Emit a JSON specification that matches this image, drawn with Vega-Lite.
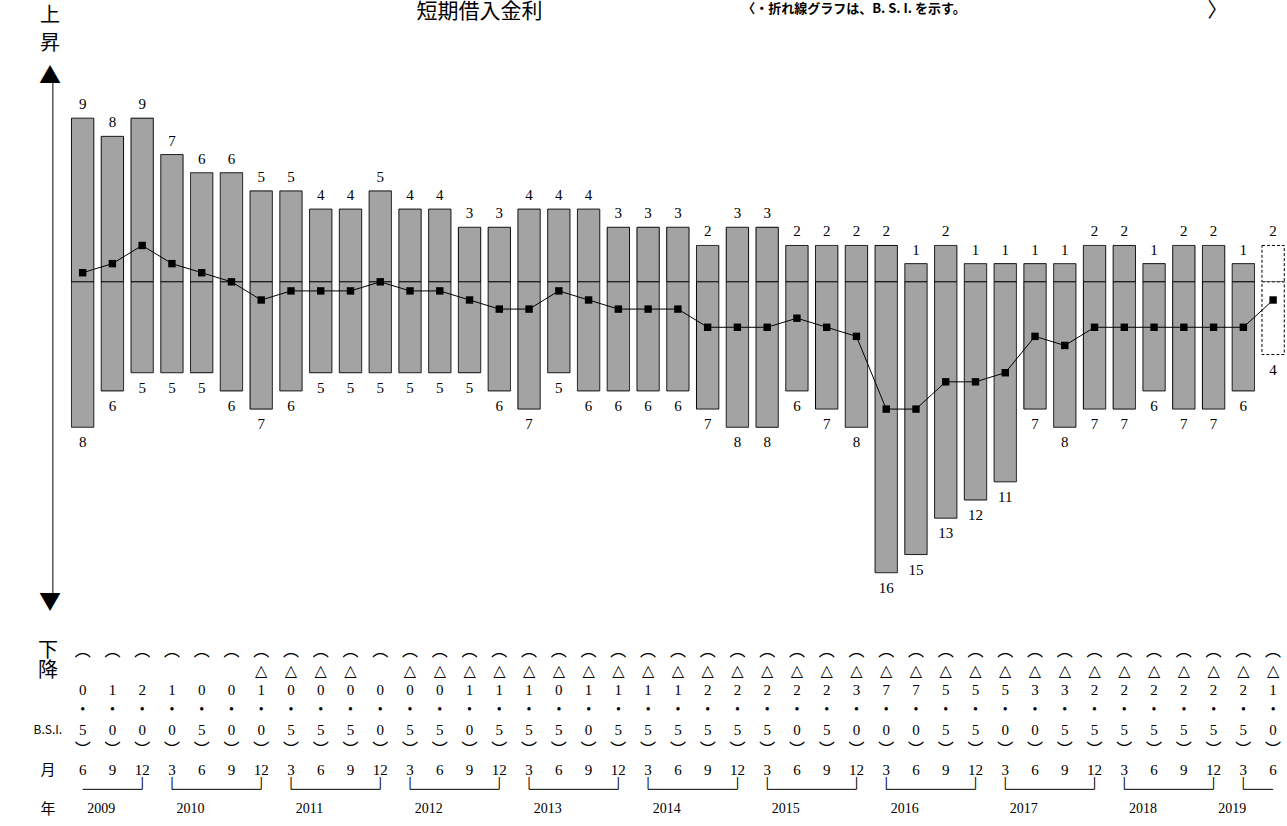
{
  "$schema": "https://vega.github.io/schema/vega-lite/v6.json",
  "padding": {"left": 33, "top": 0, "right": 0, "bottom": 0},
  "spacing": 0,
  "config": {"view": {"stroke": null}, "text": {"font": "Liberation Serif", "fontSize": 15, "color": "#000"}},
  "datasets": {
    "q": [
      {"p": "2009/6", "up": 9, "down": -8, "dl": 8, "bsi": 0.5, "i": "0", "d": "5", "m": "6", "neg": false, "f": false},
      {"p": "2009/9", "up": 8, "down": -6, "dl": 6, "bsi": 1.0, "i": "1", "d": "0", "m": "9", "neg": false, "f": false},
      {"p": "2009/12", "up": 9, "down": -5, "dl": 5, "bsi": 2.0, "i": "2", "d": "0", "m": "12", "neg": false, "f": false},
      {"p": "2010/3", "up": 7, "down": -5, "dl": 5, "bsi": 1.0, "i": "1", "d": "0", "m": "3", "neg": false, "f": false},
      {"p": "2010/6", "up": 6, "down": -5, "dl": 5, "bsi": 0.5, "i": "0", "d": "5", "m": "6", "neg": false, "f": false},
      {"p": "2010/9", "up": 6, "down": -6, "dl": 6, "bsi": 0.0, "i": "0", "d": "0", "m": "9", "neg": false, "f": false},
      {"p": "2010/12", "up": 5, "down": -7, "dl": 7, "bsi": -1.0, "i": "1", "d": "0", "m": "12", "neg": true, "f": false},
      {"p": "2011/3", "up": 5, "down": -6, "dl": 6, "bsi": -0.5, "i": "0", "d": "5", "m": "3", "neg": true, "f": false},
      {"p": "2011/6", "up": 4, "down": -5, "dl": 5, "bsi": -0.5, "i": "0", "d": "5", "m": "6", "neg": true, "f": false},
      {"p": "2011/9", "up": 4, "down": -5, "dl": 5, "bsi": -0.5, "i": "0", "d": "5", "m": "9", "neg": true, "f": false},
      {"p": "2011/12", "up": 5, "down": -5, "dl": 5, "bsi": 0.0, "i": "0", "d": "0", "m": "12", "neg": false, "f": false},
      {"p": "2012/3", "up": 4, "down": -5, "dl": 5, "bsi": -0.5, "i": "0", "d": "5", "m": "3", "neg": true, "f": false},
      {"p": "2012/6", "up": 4, "down": -5, "dl": 5, "bsi": -0.5, "i": "0", "d": "5", "m": "6", "neg": true, "f": false},
      {"p": "2012/9", "up": 3, "down": -5, "dl": 5, "bsi": -1.0, "i": "1", "d": "0", "m": "9", "neg": true, "f": false},
      {"p": "2012/12", "up": 3, "down": -6, "dl": 6, "bsi": -1.5, "i": "1", "d": "5", "m": "12", "neg": true, "f": false},
      {"p": "2013/3", "up": 4, "down": -7, "dl": 7, "bsi": -1.5, "i": "1", "d": "5", "m": "3", "neg": true, "f": false},
      {"p": "2013/6", "up": 4, "down": -5, "dl": 5, "bsi": -0.5, "i": "0", "d": "5", "m": "6", "neg": true, "f": false},
      {"p": "2013/9", "up": 4, "down": -6, "dl": 6, "bsi": -1.0, "i": "1", "d": "0", "m": "9", "neg": true, "f": false},
      {"p": "2013/12", "up": 3, "down": -6, "dl": 6, "bsi": -1.5, "i": "1", "d": "5", "m": "12", "neg": true, "f": false},
      {"p": "2014/3", "up": 3, "down": -6, "dl": 6, "bsi": -1.5, "i": "1", "d": "5", "m": "3", "neg": true, "f": false},
      {"p": "2014/6", "up": 3, "down": -6, "dl": 6, "bsi": -1.5, "i": "1", "d": "5", "m": "6", "neg": true, "f": false},
      {"p": "2014/9", "up": 2, "down": -7, "dl": 7, "bsi": -2.5, "i": "2", "d": "5", "m": "9", "neg": true, "f": false},
      {"p": "2014/12", "up": 3, "down": -8, "dl": 8, "bsi": -2.5, "i": "2", "d": "5", "m": "12", "neg": true, "f": false},
      {"p": "2015/3", "up": 3, "down": -8, "dl": 8, "bsi": -2.5, "i": "2", "d": "5", "m": "3", "neg": true, "f": false},
      {"p": "2015/6", "up": 2, "down": -6, "dl": 6, "bsi": -2.0, "i": "2", "d": "0", "m": "6", "neg": true, "f": false},
      {"p": "2015/9", "up": 2, "down": -7, "dl": 7, "bsi": -2.5, "i": "2", "d": "5", "m": "9", "neg": true, "f": false},
      {"p": "2015/12", "up": 2, "down": -8, "dl": 8, "bsi": -3.0, "i": "3", "d": "0", "m": "12", "neg": true, "f": false},
      {"p": "2016/3", "up": 2, "down": -16, "dl": 16, "bsi": -7.0, "i": "7", "d": "0", "m": "3", "neg": true, "f": false},
      {"p": "2016/6", "up": 1, "down": -15, "dl": 15, "bsi": -7.0, "i": "7", "d": "0", "m": "6", "neg": true, "f": false},
      {"p": "2016/9", "up": 2, "down": -13, "dl": 13, "bsi": -5.5, "i": "5", "d": "5", "m": "9", "neg": true, "f": false},
      {"p": "2016/12", "up": 1, "down": -12, "dl": 12, "bsi": -5.5, "i": "5", "d": "5", "m": "12", "neg": true, "f": false},
      {"p": "2017/3", "up": 1, "down": -11, "dl": 11, "bsi": -5.0, "i": "5", "d": "0", "m": "3", "neg": true, "f": false},
      {"p": "2017/6", "up": 1, "down": -7, "dl": 7, "bsi": -3.0, "i": "3", "d": "0", "m": "6", "neg": true, "f": false},
      {"p": "2017/9", "up": 1, "down": -8, "dl": 8, "bsi": -3.5, "i": "3", "d": "5", "m": "9", "neg": true, "f": false},
      {"p": "2017/12", "up": 2, "down": -7, "dl": 7, "bsi": -2.5, "i": "2", "d": "5", "m": "12", "neg": true, "f": false},
      {"p": "2018/3", "up": 2, "down": -7, "dl": 7, "bsi": -2.5, "i": "2", "d": "5", "m": "3", "neg": true, "f": false},
      {"p": "2018/6", "up": 1, "down": -6, "dl": 6, "bsi": -2.5, "i": "2", "d": "5", "m": "6", "neg": true, "f": false},
      {"p": "2018/9", "up": 2, "down": -7, "dl": 7, "bsi": -2.5, "i": "2", "d": "5", "m": "9", "neg": true, "f": false},
      {"p": "2018/12", "up": 2, "down": -7, "dl": 7, "bsi": -2.5, "i": "2", "d": "5", "m": "12", "neg": true, "f": false},
      {"p": "2019/3", "up": 1, "down": -6, "dl": 6, "bsi": -2.5, "i": "2", "d": "5", "m": "3", "neg": true, "f": false},
      {"p": "2019/6", "up": 2, "down": -4, "dl": 4, "bsi": -1.0, "i": "1", "d": "0", "m": "6", "neg": true, "f": true}
    ],
    "years": [
      {"y": "2009", "s": "2009/6", "e": "2009/12", "c": "2009/9", "even": false},
      {"y": "2010", "s": "2010/3", "e": "2010/12", "c": "2010/6", "even": true},
      {"y": "2011", "s": "2011/3", "e": "2011/12", "c": "2011/6", "even": true},
      {"y": "2012", "s": "2012/3", "e": "2012/12", "c": "2012/6", "even": true},
      {"y": "2013", "s": "2013/3", "e": "2013/12", "c": "2013/6", "even": true},
      {"y": "2014", "s": "2014/3", "e": "2014/12", "c": "2014/6", "even": true},
      {"y": "2015", "s": "2015/3", "e": "2015/12", "c": "2015/6", "even": true},
      {"y": "2016", "s": "2016/3", "e": "2016/12", "c": "2016/6", "even": true},
      {"y": "2017", "s": "2017/3", "e": "2017/12", "c": "2017/6", "even": true},
      {"y": "2018", "s": "2018/3", "e": "2018/12", "c": "2018/6", "even": true},
      {"y": "2019", "s": "2019/3", "e": "2019/6", "c": "2019/3", "even": true}
    ],
    "ends": [
      {"p": "2009/12"}, {"p": "2010/3"}, {"p": "2010/12"}, {"p": "2011/3"}, {"p": "2011/12"},
      {"p": "2012/3"}, {"p": "2012/12"}, {"p": "2013/3"}, {"p": "2013/12"}, {"p": "2014/3"}, {"p": "2014/12"},
      {"p": "2015/3"}, {"p": "2015/12"}, {"p": "2016/3"}, {"p": "2016/12"}, {"p": "2017/3"}, {"p": "2017/12"},
      {"p": "2018/3"}, {"p": "2018/12"}, {"p": "2019/3"}
    ]
  },
  "vconcat": [
    {
      "width": 1250,
      "height": 640,
      "data": {"name": "q"},
      "encoding": {
        "x": {"field": "p", "type": "nominal", "axis": null,
          "scale": {"paddingInner": 0.25, "paddingOuter": 0.125,
            "domain": ["axis","2009/6","2009/9","2009/12","2010/3","2010/6","2010/9","2010/12","2011/3","2011/6","2011/9","2011/12","2012/3","2012/6","2012/9","2012/12","2013/3","2013/6","2013/9","2013/12","2014/3","2014/6","2014/9","2014/12","2015/3","2015/6","2015/9","2015/12","2016/3","2016/6","2016/9","2016/12","2017/3","2017/6","2017/9","2017/12","2018/3","2018/6","2018/9","2018/12","2019/3","2019/6"]}}
      },
      "layer": [
        {
          "mark": {"type": "bar", "stroke": "#000", "strokeWidth": 1},
          "encoding": {
            "y": {"field": "up", "type": "quantitative", "axis": null, "scale": {"domain": [-19.7, 15.5], "nice": false, "zero": false}},
            "y2": {"datum": 0},
            "fill": {"condition": {"test": "datum.f", "value": "#ffffff"}, "value": "#a3a3a3"},
            "strokeDash": {"condition": {"test": "datum.f", "value": [3, 2]}, "value": [1, 0]}
          }
        },
        {
          "mark": {"type": "bar", "stroke": "#000", "strokeWidth": 1},
          "encoding": {
            "y": {"field": "down", "type": "quantitative"},
            "y2": {"datum": 0},
            "fill": {"condition": {"test": "datum.f", "value": "#ffffff"}, "value": "#a3a3a3"},
            "strokeDash": {"condition": {"test": "datum.f", "value": [3, 2]}, "value": [1, 0]}
          }
        },
        {
          "mark": {"type": "text", "baseline": "bottom", "dy": -6},
          "encoding": {"y": {"field": "up", "type": "quantitative"}, "text": {"field": "up"}}
        },
        {
          "mark": {"type": "text", "baseline": "top", "dy": 8},
          "encoding": {"y": {"field": "down", "type": "quantitative"}, "text": {"field": "dl"}}
        },
        {
          "mark": {"type": "rule", "color": "#000", "strokeWidth": 1},
          "encoding": {"y": {"datum": 0}}
        },
        {
          "mark": {"type": "line", "color": "#000", "strokeWidth": 1, "point": {"shape": "square", "size": 55, "filled": true, "color": "#000"}},
          "encoding": {"y": {"field": "bsi", "type": "quantitative"}}
        },
        {
          "data": {"values": [{"p": "axis", "a": 11.3, "b": -17.6}]},
          "mark": {"type": "rule", "color": "#000", "strokeWidth": 1},
          "encoding": {"y": {"field": "a", "type": "quantitative"}, "y2": {"field": "b"}}
        },
        {
          "data": {"values": [
            {"p": "axis", "v": 11.3, "t": "▲", "s": 22},
            {"p": "axis", "v": -17.6, "t": "▼", "s": 22},
            {"p": "axis", "v": 14.6, "t": "上", "s": 20},
            {"p": "axis", "v": 13.1, "t": "昇", "s": 20}
          ]},
          "mark": {"type": "text", "font": "Noto Sans CJK JP", "dx": -3},
          "encoding": {"y": {"field": "v", "type": "quantitative"}, "text": {"field": "t"}, "size": {"field": "s", "type": "quantitative", "scale": null}}
        },
        {
          "data": {"values": [{"p": "2012/9", "v": 14.85, "t": "短期借入金利"}]},
          "mark": {"type": "text", "font": "Noto Sans CJK JP", "fontSize": 21, "dx": 10},
          "encoding": {"y": {"field": "v", "type": "quantitative"}, "text": {"field": "t"}}
        },
        {
          "data": {"values": [{"p": "2015/3", "v": 15.0, "t": "〈・折れ線グラフは、B. S. I. を示す。"}]},
          "mark": {"type": "text", "font": "Noto Sans CJK JP", "fontSize": 13, "fontWeight": "bold", "align": "left", "dx": -25},
          "encoding": {"y": {"field": "v", "type": "quantitative"}, "text": {"field": "t"}}
        },
        {
          "data": {"values": [{"p": "2018/12", "v": 14.9, "t": "〉"}]},
          "mark": {"type": "text", "font": "Noto Sans CJK JP", "fontSize": 20, "dx": 4},
          "encoding": {"y": {"field": "v", "type": "quantitative"}, "text": {"field": "t"}}
        }
      ]
    },
    {
      "width": 1250,
      "height": 178,
      "data": {"name": "q"},
      "encoding": {
        "x": {"field": "p", "type": "nominal", "axis": null,
          "scale": {"paddingInner": 0.25, "paddingOuter": 0.125,
            "domain": ["axis","2009/6","2009/9","2009/12","2010/3","2010/6","2010/9","2010/12","2011/3","2011/6","2011/9","2011/12","2012/3","2012/6","2012/9","2012/12","2013/3","2013/6","2013/9","2013/12","2014/3","2014/6","2014/9","2014/12","2015/3","2015/6","2015/9","2015/12","2016/3","2016/6","2016/9","2016/12","2017/3","2017/6","2017/9","2017/12","2018/3","2018/6","2018/9","2018/12","2019/3","2019/6"]}}
      },
      "layer": [
        {
          "mark": {"type": "text", "font": "Noto Sans CJK JP", "fontSize": 16},
          "encoding": {"y": {"datum": "arc1", "type": "ordinal", "axis": null, "scale": {"type": "point", "padding": 0.5, "domain": ["arc1","tri","int","dot","dec","arc2","month","bracket","year"]}}, "text": {"value": "︵"}}
        },
        {
          "transform": [{"filter": "datum.neg"}],
          "mark": {"type": "text", "font": "DejaVu Sans", "fontSize": 16},
          "encoding": {"y": {"datum": "tri", "type": "ordinal"}, "text": {"value": "△"}}
        },
        {
          "mark": {"type": "text"},
          "encoding": {"y": {"datum": "int", "type": "ordinal"}, "text": {"field": "i"}}
        },
        {
          "mark": {"type": "text", "fontSize": 14},
          "encoding": {"y": {"datum": "dot", "type": "ordinal"}, "text": {"value": "•"}}
        },
        {
          "mark": {"type": "text"},
          "encoding": {"y": {"datum": "dec", "type": "ordinal"}, "text": {"field": "d"}}
        },
        {
          "mark": {"type": "text", "font": "Noto Sans CJK JP", "fontSize": 16},
          "encoding": {"y": {"datum": "arc2", "type": "ordinal"}, "text": {"value": "︶"}}
        },
        {
          "mark": {"type": "text"},
          "encoding": {"y": {"datum": "month", "type": "ordinal"}, "text": {"field": "m"}}
        },
        {
          "data": {"name": "years"},
          "mark": {"type": "rule", "color": "#000", "strokeWidth": 1},
          "encoding": {"x": {"field": "s", "type": "nominal"}, "x2": {"field": "e"}, "y": {"datum": "bracket", "type": "ordinal"}}
        },
        {
          "data": {"name": "ends"},
          "mark": {"type": "text", "font": "DejaVu Sans", "fontSize": 12, "baseline": "bottom", "dy": 1, "color": "#000"},
          "encoding": {"y": {"datum": "bracket", "type": "ordinal"}, "text": {"value": "|"}, "color": {"value": "#000"}}
        },
        {
          "data": {"name": "years"},
          "mark": {"type": "text", "fontSize": 14},
          "encoding": {"x": {"field": "c", "type": "nominal"}, "y": {"datum": "year", "type": "ordinal"}, "text": {"field": "y"},
            "xOffset": {"condition": {"test": "datum.even", "value": 15}, "value": 0}}
        },
        {
          "data": {"values": [
            {"p": "axis", "r": "arc1", "t": "下", "s": 20},
            {"p": "axis", "r": "tri", "t": "降", "s": 20},
            {"p": "axis", "r": "dec", "t": "B.S.I.", "s": 12},
            {"p": "axis", "r": "month", "t": "月", "s": 15},
            {"p": "axis", "r": "year", "t": "年", "s": 15}
          ]},
          "mark": {"type": "text", "font": "Noto Sans CJK JP", "dx": -5},
          "encoding": {"y": {"field": "r", "type": "ordinal"}, "text": {"field": "t"}, "size": {"field": "s", "type": "quantitative", "scale": null}}
        }
      ]
    }
  ]
}
